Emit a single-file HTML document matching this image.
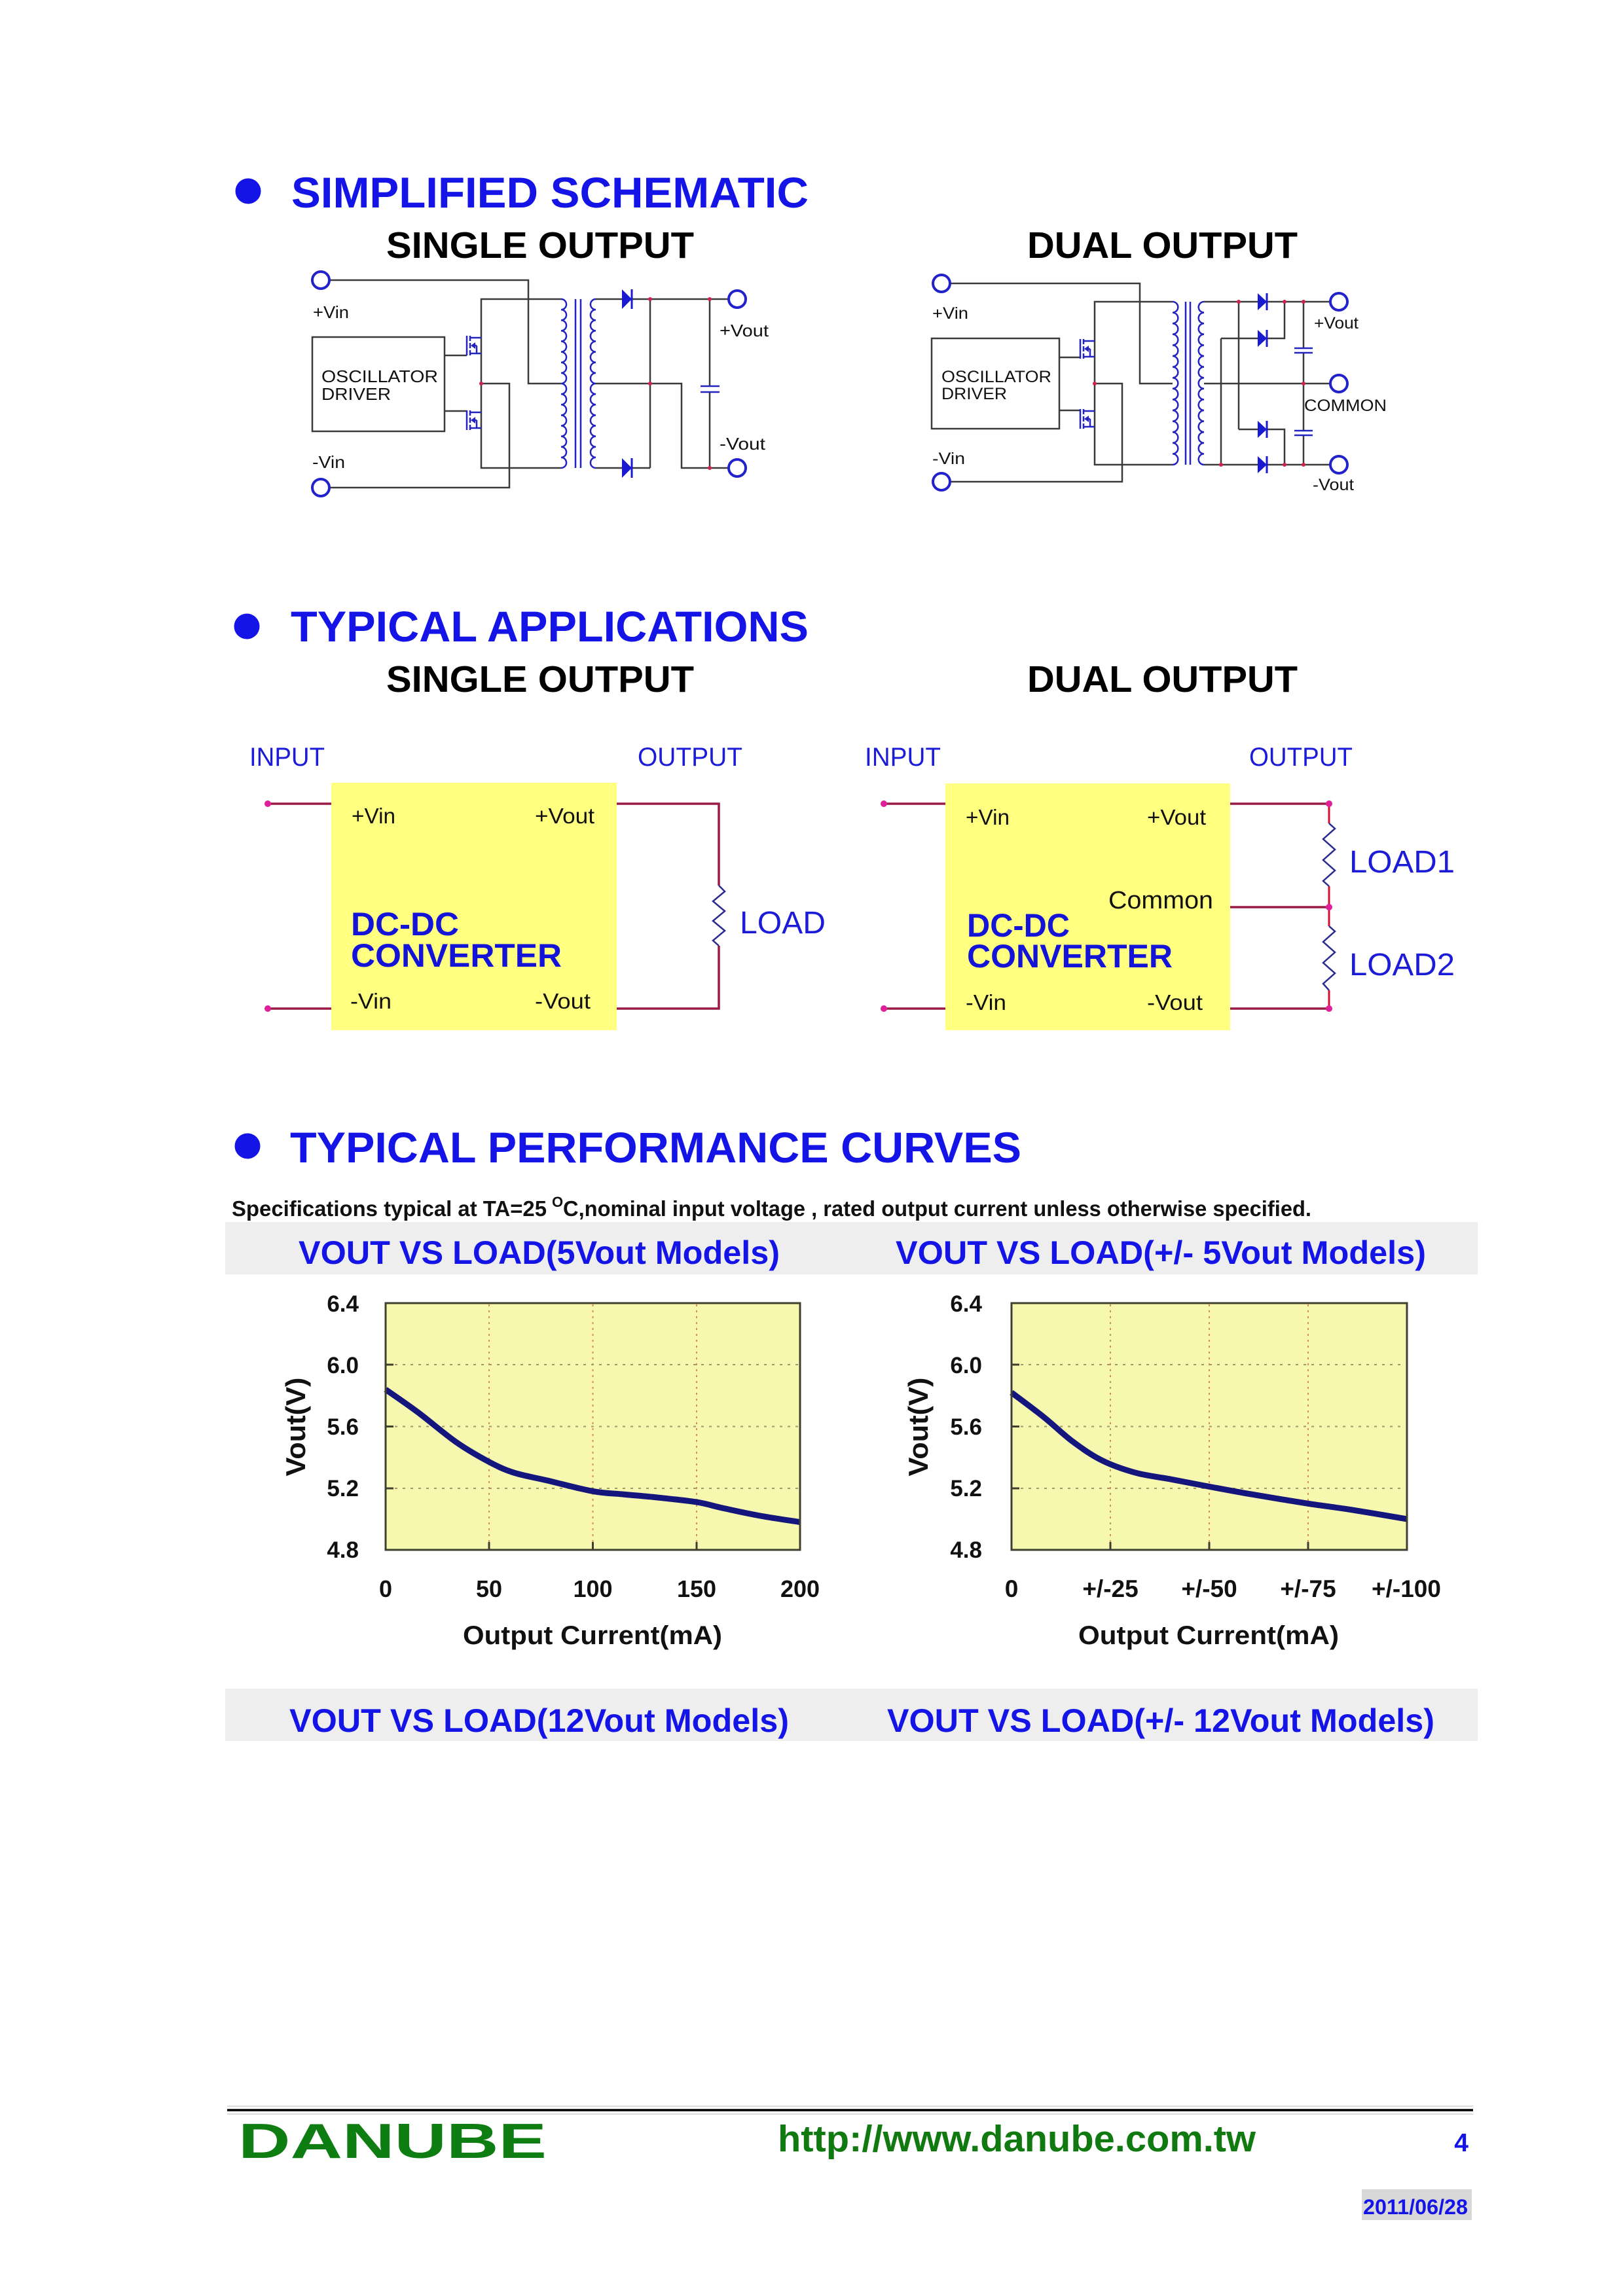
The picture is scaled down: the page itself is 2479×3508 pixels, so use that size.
<!DOCTYPE html>
<html><head><meta charset="utf-8">
<style>html,body{margin:0;padding:0;background:#fff}svg{display:block}</style>
</head><body>
<svg xmlns="http://www.w3.org/2000/svg" width="2479" height="3508" viewBox="0 0 2479 3508" font-family="'Liberation Sans', Arial, sans-serif">
<defs>
  <g id="mos" stroke="#2323c0" stroke-width="2.5" fill="none">
    <line x1="0" y1="0" x2="0" y2="30"/>
    <line x1="5" y1="0" x2="5" y2="8"/>
    <line x1="5" y1="11" x2="5" y2="19"/>
    <line x1="5" y1="22" x2="5" y2="30"/>
    <line x1="5" y1="3" x2="22" y2="3"/>
    <line x1="5" y1="27" x2="22" y2="27"/>
    <line x1="8" y1="15" x2="15" y2="15"/>
    <line x1="15" y1="15" x2="15" y2="27"/>
    <polygon points="6,15 13,10 13,20" fill="#2323c0" stroke="none"/>
  </g>
  <g id="dio">
    <polygon points="0,-15 0,15 15,0" fill="#1a1ad0"/>
    <line x1="15" y1="-15" x2="15" y2="15" stroke="#1a1ad0" stroke-width="3"/>
  </g>
  <g id="dio2">
    <polygon points="0,-13 0,13 14,0" fill="#1a1ad0"/>
    <line x1="14" y1="-13" x2="14" y2="13" stroke="#1a1ad0" stroke-width="3"/>
  </g>
</defs>
<rect width="2479" height="3508" fill="#fff"/>

<!-- ============ SECTION 1 ============ -->
<circle cx="379" cy="292" r="19.5" fill="#1414e6"/>
<text x="445" y="317" font-size="66" font-weight="bold" fill="#1414e6" textLength="790" lengthAdjust="spacingAndGlyphs">SIMPLIFIED SCHEMATIC</text>
<text x="590" y="394" font-size="57" font-weight="bold" fill="#000" textLength="470" lengthAdjust="spacingAndGlyphs">SINGLE OUTPUT</text>
<text x="1569" y="394" font-size="57" font-weight="bold" fill="#000" textLength="413" lengthAdjust="spacingAndGlyphs">DUAL OUTPUT</text>

<!-- single schematic -->
<g stroke="#3a3a3a" stroke-width="2.5" fill="none">
  <polyline points="503,428 807,428 807,586 857,586"/>
  <rect x="477" y="515" width="202" height="144"/>
  <line x1="679" y1="543" x2="713" y2="543"/>
  <line x1="679" y1="628" x2="713" y2="628"/>
  <polyline points="857,457 735,457 735,715 857,715"/>
  <polyline points="735,586 778,586 778,745 503,745"/>
  <line x1="910" y1="457" x2="950" y2="457"/>
  <line x1="965" y1="457" x2="1113" y2="457"/>
  <line x1="993" y1="457" x2="993" y2="715"/>
  <polyline points="910,586 1041,586 1041,715 1113,715"/>
  <line x1="910" y1="715" x2="950" y2="715"/>
  <line x1="965" y1="715" x2="993" y2="715"/>
  <line x1="1084" y1="457" x2="1084" y2="590"/>
  <line x1="1084" y1="599" x2="1084" y2="715"/>
</g>
<g stroke="#2323c0" stroke-width="2.5" fill="none">
  <line x1="1070" y1="590" x2="1099" y2="590"/>
  <line x1="1070" y1="599" x2="1099" y2="599"/>
  <line x1="879" y1="457" x2="879" y2="715"/>
  <line x1="887" y1="457" x2="887" y2="715"/>
  <path d="M857,457 a8.06,8.06 0 0 1 0,16.125 8.06,8.06 0 0 1 0,16.125 8.06,8.06 0 0 1 0,16.125 8.06,8.06 0 0 1 0,16.125 8.06,8.06 0 0 1 0,16.125 8.06,8.06 0 0 1 0,16.125 8.06,8.06 0 0 1 0,16.125 8.06,8.06 0 0 1 0,16.125 8.06,8.06 0 0 1 0,16.125 8.06,8.06 0 0 1 0,16.125 8.06,8.06 0 0 1 0,16.125 8.06,8.06 0 0 1 0,16.125 8.06,8.06 0 0 1 0,16.125 8.06,8.06 0 0 1 0,16.125 8.06,8.06 0 0 1 0,16.125 8.06,8.06 0 0 1 0,16.125"/>
  <path d="M910,457 a8.06,8.06 0 0 0 0,16.125 8.06,8.06 0 0 0 0,16.125 8.06,8.06 0 0 0 0,16.125 8.06,8.06 0 0 0 0,16.125 8.06,8.06 0 0 0 0,16.125 8.06,8.06 0 0 0 0,16.125 8.06,8.06 0 0 0 0,16.125 8.06,8.06 0 0 0 0,16.125 8.06,8.06 0 0 0 0,16.125 8.06,8.06 0 0 0 0,16.125 8.06,8.06 0 0 0 0,16.125 8.06,8.06 0 0 0 0,16.125 8.06,8.06 0 0 0 0,16.125 8.06,8.06 0 0 0 0,16.125 8.06,8.06 0 0 0 0,16.125 8.06,8.06 0 0 0 0,16.125"/>
</g>
<use href="#mos" x="713" y="513"/>
<use href="#mos" x="713" y="627"/>
<use href="#dio" x="950" y="457"/>
<use href="#dio" x="950" y="715"/>
<g fill="#d02050">
  <circle cx="993" cy="457" r="3"/><circle cx="1084" cy="457" r="3"/><circle cx="1084" cy="715" r="3"/><circle cx="993" cy="586" r="3"/><circle cx="735" cy="586" r="3"/>
</g>
<g stroke="#2222cc" stroke-width="4" fill="#fff">
  <circle cx="490" cy="428" r="13"/>
  <circle cx="490" cy="745" r="13"/>
  <circle cx="1126" cy="457" r="13"/>
  <circle cx="1126" cy="715" r="13"/>
</g>
<g font-size="26" fill="#111">
  <text x="478" y="486" textLength="55" lengthAdjust="spacingAndGlyphs">+Vin</text>
  <text x="477" y="715" textLength="50" lengthAdjust="spacingAndGlyphs">-Vin</text>
  <text x="1099" y="514" textLength="75" lengthAdjust="spacingAndGlyphs">+Vout</text>
  <text x="1099" y="687" textLength="70" lengthAdjust="spacingAndGlyphs">-Vout</text>
  <text x="491" y="584" textLength="178" lengthAdjust="spacingAndGlyphs">OSCILLATOR</text>
  <text x="491" y="611" textLength="106" lengthAdjust="spacingAndGlyphs">DRIVER</text>
</g>

<!-- dual schematic -->
<g stroke="#3a3a3a" stroke-width="2.5" fill="none">
  <polyline points="1451,433 1741,433 1741,586 1791,586"/>
  <rect x="1423" y="517" width="195" height="138"/>
  <line x1="1618" y1="546" x2="1650" y2="546"/>
  <line x1="1618" y1="627" x2="1650" y2="627"/>
  <polyline points="1791,461 1672,461 1672,710 1791,710"/>
  <polyline points="1672,586 1714,586 1714,736 1451,736"/>
  <line x1="1839" y1="461" x2="1921" y2="461"/>
  <line x1="1935" y1="461" x2="2032" y2="461"/>
  <line x1="1892" y1="461" x2="1892" y2="656"/>
  <line x1="1892" y1="656" x2="1921" y2="656"/>
  <polyline points="1935,656 1962,656 1962,710"/>
  <line x1="1865" y1="517" x2="1921" y2="517"/>
  <polyline points="1935,517 1962,517 1962,461"/>
  <line x1="1865" y1="517" x2="1865" y2="710"/>
  <line x1="1839" y1="586" x2="2032" y2="586"/>
  <line x1="1991" y1="461" x2="1991" y2="532"/>
  <line x1="1991" y1="539" x2="1991" y2="658"/>
  <line x1="1991" y1="665" x2="1991" y2="710"/>
  <line x1="1839" y1="710" x2="1921" y2="710"/>
  <line x1="1935" y1="710" x2="2032" y2="710"/>
</g>
<g stroke="#2323c0" stroke-width="2.5" fill="none">
  <line x1="1977" y1="532" x2="2005" y2="532"/>
  <line x1="1977" y1="539" x2="2005" y2="539"/>
  <line x1="1977" y1="658" x2="2005" y2="658"/>
  <line x1="1977" y1="665" x2="2005" y2="665"/>
  <line x1="1811" y1="461" x2="1811" y2="710"/>
  <line x1="1818" y1="461" x2="1818" y2="710"/>
  <path d="M1791,461 a8.3,8.3 0 0 1 0,16.6 8.3,8.3 0 0 1 0,16.6 8.3,8.3 0 0 1 0,16.6 8.3,8.3 0 0 1 0,16.6 8.3,8.3 0 0 1 0,16.6 8.3,8.3 0 0 1 0,16.6 8.3,8.3 0 0 1 0,16.6 8.3,8.3 0 0 1 0,16.6 8.3,8.3 0 0 1 0,16.6 8.3,8.3 0 0 1 0,16.6 8.3,8.3 0 0 1 0,16.6 8.3,8.3 0 0 1 0,16.6 8.3,8.3 0 0 1 0,16.6 8.3,8.3 0 0 1 0,16.6 8.3,8.3 0 0 1 0,16.6"/>
  <path d="M1839,461 a8.3,8.3 0 0 0 0,16.6 8.3,8.3 0 0 0 0,16.6 8.3,8.3 0 0 0 0,16.6 8.3,8.3 0 0 0 0,16.6 8.3,8.3 0 0 0 0,16.6 8.3,8.3 0 0 0 0,16.6 8.3,8.3 0 0 0 0,16.6 8.3,8.3 0 0 0 0,16.6 8.3,8.3 0 0 0 0,16.6 8.3,8.3 0 0 0 0,16.6 8.3,8.3 0 0 0 0,16.6 8.3,8.3 0 0 0 0,16.6 8.3,8.3 0 0 0 0,16.6 8.3,8.3 0 0 0 0,16.6 8.3,8.3 0 0 0 0,16.6"/>
</g>
<use href="#mos" x="1650" y="518"/>
<use href="#mos" x="1650" y="625"/>
<use href="#dio2" x="1921" y="461"/>
<use href="#dio2" x="1921" y="517"/>
<use href="#dio2" x="1921" y="656"/>
<use href="#dio2" x="1921" y="710"/>
<g fill="#d02050">
  <circle cx="1892" cy="461" r="3"/><circle cx="1962" cy="461" r="3"/><circle cx="1991" cy="461" r="3"/>
  <circle cx="1991" cy="586" r="3"/><circle cx="1865" cy="710" r="3"/><circle cx="1962" cy="710" r="3"/><circle cx="1991" cy="710" r="3"/><circle cx="1672" cy="586" r="3"/>
</g>
<g stroke="#2222cc" stroke-width="4" fill="#fff">
  <circle cx="1438" cy="433" r="13"/>
  <circle cx="1438" cy="736" r="13"/>
  <circle cx="2045" cy="461" r="13"/>
  <circle cx="2045" cy="586" r="13"/>
  <circle cx="2045" cy="710" r="13"/>
</g>
<g font-size="25" fill="#111">
  <text x="1424" y="487" textLength="55" lengthAdjust="spacingAndGlyphs">+Vin</text>
  <text x="1424" y="709" textLength="50" lengthAdjust="spacingAndGlyphs">-Vin</text>
  <text x="2007" y="502" textLength="68" lengthAdjust="spacingAndGlyphs">+Vout</text>
  <text x="1992" y="628" textLength="126" lengthAdjust="spacingAndGlyphs">COMMON</text>
  <text x="2005" y="749" textLength="63" lengthAdjust="spacingAndGlyphs">-Vout</text>
  <text x="1438" y="584" textLength="168" lengthAdjust="spacingAndGlyphs">OSCILLATOR</text>
  <text x="1438" y="610" textLength="100" lengthAdjust="spacingAndGlyphs">DRIVER</text>
</g>

<!-- ============ SECTION 2 ============ -->
<circle cx="377" cy="957" r="19.5" fill="#1414e6"/>
<text x="444" y="980" font-size="66" font-weight="bold" fill="#1414e6" textLength="791" lengthAdjust="spacingAndGlyphs">TYPICAL APPLICATIONS</text>
<text x="590" y="1057" font-size="57" font-weight="bold" fill="#000" textLength="470" lengthAdjust="spacingAndGlyphs">SINGLE OUTPUT</text>
<text x="1569" y="1057" font-size="57" font-weight="bold" fill="#000" textLength="413" lengthAdjust="spacingAndGlyphs">DUAL OUTPUT</text>

<g font-size="40" fill="#1c1cd8">
  <text x="381" y="1170" textLength="115" lengthAdjust="spacingAndGlyphs">INPUT</text>
  <text x="974" y="1170" textLength="160" lengthAdjust="spacingAndGlyphs">OUTPUT</text>
  <text x="1321" y="1170" textLength="116" lengthAdjust="spacingAndGlyphs">INPUT</text>
  <text x="1908" y="1170" textLength="158" lengthAdjust="spacingAndGlyphs">OUTPUT</text>
</g>

<!-- left app -->
<rect x="506" y="1196" width="436" height="378" fill="#ffff80"/>
<g stroke="#9a1c44" stroke-width="3.5" fill="none">
  <line x1="409" y1="1228" x2="506" y2="1228"/>
  <line x1="409" y1="1541" x2="506" y2="1541"/>
  <polyline points="942,1228 1098,1228 1098,1353"/>
  <polyline points="1098,1445 1098,1541 942,1541"/>
</g>
<polyline points="1098,1353 1107,1362 1089,1377 1107,1392 1089,1407 1107,1422 1089,1437 1098,1445" stroke="#2a2a90" stroke-width="2.5" fill="none"/>
<g fill="#e0209a"><circle cx="409" cy="1228" r="5"/><circle cx="409" cy="1541" r="5"/></g>
<g font-size="33" fill="#111">
  <text x="537" y="1258" textLength="67" lengthAdjust="spacingAndGlyphs">+Vin</text>
  <text x="817" y="1258" textLength="91" lengthAdjust="spacingAndGlyphs">+Vout</text>
  <text x="535" y="1541" textLength="63" lengthAdjust="spacingAndGlyphs">-Vin</text>
  <text x="817" y="1541" textLength="85" lengthAdjust="spacingAndGlyphs">-Vout</text>
</g>
<g font-size="50" font-weight="bold" fill="#1414d8">
  <text x="536" y="1429" textLength="165" lengthAdjust="spacingAndGlyphs">DC-DC</text>
  <text x="536" y="1477" textLength="322" lengthAdjust="spacingAndGlyphs">CONVERTER</text>
</g>
<text x="1130" y="1426" font-size="48" fill="#1c1cd8" textLength="131" lengthAdjust="spacingAndGlyphs">LOAD</text>

<!-- right app -->
<rect x="1444" y="1197" width="435" height="377" fill="#ffff80"/>
<g stroke="#9a1c44" stroke-width="3.5" fill="none">
  <line x1="1350" y1="1228" x2="1444" y2="1228"/>
  <line x1="1350" y1="1541" x2="1444" y2="1541"/>
  <line x1="1879" y1="1228" x2="2030" y2="1228"/>
  <line x1="1879" y1="1386" x2="2030" y2="1386"/>
  <line x1="1879" y1="1541" x2="2030" y2="1541"/>
</g>
<g stroke="#d0102c" stroke-width="3" fill="none">
  <line x1="2030" y1="1228" x2="2030" y2="1258"/>
  <line x1="2030" y1="1354" x2="2030" y2="1415"/>
  <line x1="2030" y1="1513" x2="2030" y2="1541"/>
</g>
<g stroke="#2a2a90" stroke-width="2.5" fill="none">
  <polyline points="2030,1258 2039,1266 2021,1282 2039,1298 2021,1314 2039,1330 2021,1346 2030,1354"/>
  <polyline points="2030,1415 2039,1423 2021,1439 2039,1455 2021,1471 2039,1487 2021,1503 2030,1513"/>
</g>
<g fill="#e0209a">
  <circle cx="1350" cy="1228" r="5"/><circle cx="1350" cy="1541" r="5"/>
  <circle cx="2030" cy="1228" r="5"/><circle cx="2030" cy="1386" r="5"/><circle cx="2030" cy="1541" r="5"/>
</g>
<g font-size="33" fill="#111">
  <text x="1475" y="1260" textLength="67" lengthAdjust="spacingAndGlyphs">+Vin</text>
  <text x="1752" y="1260" textLength="90" lengthAdjust="spacingAndGlyphs">+Vout</text>
  <text x="1475" y="1543" textLength="62" lengthAdjust="spacingAndGlyphs">-Vin</text>
  <text x="1752" y="1543" textLength="85" lengthAdjust="spacingAndGlyphs">-Vout</text>
  <text x="1693" y="1388" font-size="38" textLength="160" lengthAdjust="spacingAndGlyphs">Common</text>
</g>
<g font-size="50" font-weight="bold" fill="#1414d8">
  <text x="1477" y="1431" textLength="157" lengthAdjust="spacingAndGlyphs">DC-DC</text>
  <text x="1477" y="1478" textLength="314" lengthAdjust="spacingAndGlyphs">CONVERTER</text>
</g>
<g font-size="48" fill="#1c1cd8">
  <text x="2061" y="1333" textLength="161" lengthAdjust="spacingAndGlyphs">LOAD1</text>
  <text x="2061" y="1490" textLength="161" lengthAdjust="spacingAndGlyphs">LOAD2</text>
</g>

<!-- ============ SECTION 3 ============ -->
<circle cx="378" cy="1751" r="19.5" fill="#1414e6"/>
<text x="443" y="1776" font-size="66" font-weight="bold" fill="#1414e6" textLength="1117" lengthAdjust="spacingAndGlyphs">TYPICAL PERFORMANCE CURVES</text>

<g font-size="33" font-weight="bold" fill="#111">
  <text x="354" y="1858" textLength="481" lengthAdjust="spacingAndGlyphs">Specifications typical at TA=25</text>
  <text x="843" y="1844" font-size="22">O</text>
  <text x="860" y="1858" textLength="1143" lengthAdjust="spacingAndGlyphs">C,nominal input voltage , rated output current unless otherwise specified.</text>
</g>

<rect x="344" y="1867" width="1913" height="80" fill="#eeeeee"/>
<g font-size="50" font-weight="bold" fill="#1414e6">
  <text x="456" y="1931" textLength="735" lengthAdjust="spacingAndGlyphs">VOUT VS LOAD(5Vout Models)</text>
  <text x="1368" y="1931" textLength="810" lengthAdjust="spacingAndGlyphs">VOUT VS LOAD(+/- 5Vout Models)</text>
</g>

<!-- left chart -->
<rect x="589" y="1991" width="633" height="377" fill="#f6f8b0"/>
<g stroke="#d89050" stroke-width="2" stroke-dasharray="3 6">
  <line x1="747" y1="1993" x2="747" y2="2366"/>
  <line x1="905.5" y1="1993" x2="905.5" y2="2366"/>
  <line x1="1064" y1="1993" x2="1064" y2="2366"/>
</g>
<g stroke="#a09868" stroke-width="2" stroke-dasharray="4 8">
  <line x1="591" y1="2085" x2="1220" y2="2085"/>
  <line x1="591" y1="2179.5" x2="1220" y2="2179.5"/>
  <line x1="591" y1="2274" x2="1220" y2="2274"/>
</g>
<g stroke="#404030" stroke-width="3">
  <line x1="589" y1="2085" x2="601" y2="2085"/>
  <line x1="589" y1="2179.5" x2="601" y2="2179.5"/>
  <line x1="589" y1="2274" x2="601" y2="2274"/>
  <line x1="747" y1="2368" x2="747" y2="2356"/>
  <line x1="905.5" y1="2368" x2="905.5" y2="2356"/>
  <line x1="1064" y1="2368" x2="1064" y2="2356"/>
</g>
<g transform="translate(589,1991) scale(0.99528,0.99735) translate(-591,-1993)">
<path d="M591,2125.3 C599.4,2131.2 623.2,2147.3 641.2,2160.7 C659.2,2174.1 680.7,2193 698.8,2205.6 C716.9,2218.2 735.1,2228.4 750,2236.3 C764.9,2244.2 773.4,2248.2 788.2,2252.9 C803,2257.6 818.9,2260 839,2264.7 C859.1,2269.4 889.4,2277.7 909,2281.2 C928.6,2284.75 940.3,2284.4 956.7,2286 C973.1,2287.6 989.05,2288.7 1007.6,2290.7 C1026.15,2292.7 1051,2295.05 1068,2297.8 C1085,2300.55 1093,2303.7 1109.4,2307.2 C1125.8,2310.7 1147,2315.45 1166.6,2319 C1186.2,2322.55 1216.9,2326.9 1227,2328.5" fill="none" stroke="#15157e" stroke-width="9" stroke-linejoin="round"/>
</g>
<rect x="589" y="1991" width="633" height="377" fill="none" stroke="#404030" stroke-width="3"/>
<g font-size="35" font-weight="bold" fill="#111" text-anchor="end">
  <text x="548" y="2004">6.4</text>
  <text x="548" y="2098">6.0</text>
  <text x="548" y="2192">5.6</text>
  <text x="548" y="2286">5.2</text>
  <text x="548" y="2380">4.8</text>
</g>
<g font-size="36" font-weight="bold" fill="#111" text-anchor="middle">
  <text x="589" y="2440">0</text>
  <text x="747" y="2440">50</text>
  <text x="905.5" y="2440">100</text>
  <text x="1064" y="2440">150</text>
  <text x="1222" y="2440">200</text>
</g>
<text transform="translate(466,2180) rotate(-90)" font-size="42" font-weight="bold" fill="#111" text-anchor="middle" textLength="151" lengthAdjust="spacingAndGlyphs">Vout(V)</text>
<text x="905" y="2512" font-size="40" font-weight="bold" fill="#111" text-anchor="middle" textLength="396" lengthAdjust="spacingAndGlyphs">Output Current(mA)</text>

<!-- right chart -->
<rect x="1545" y="1991" width="604" height="377" fill="#f6f8b0"/>
<g stroke="#d89050" stroke-width="2" stroke-dasharray="3 6">
  <line x1="1696" y1="1993" x2="1696" y2="2366"/>
  <line x1="1847" y1="1993" x2="1847" y2="2366"/>
  <line x1="1998" y1="1993" x2="1998" y2="2366"/>
</g>
<g stroke="#a09868" stroke-width="2" stroke-dasharray="4 8">
  <line x1="1547" y1="2085" x2="2147" y2="2085"/>
  <line x1="1547" y1="2179.5" x2="2147" y2="2179.5"/>
  <line x1="1547" y1="2274" x2="2147" y2="2274"/>
</g>
<g stroke="#404030" stroke-width="3">
  <line x1="1545" y1="2085" x2="1557" y2="2085"/>
  <line x1="1545" y1="2179.5" x2="1557" y2="2179.5"/>
  <line x1="1545" y1="2274" x2="1557" y2="2274"/>
  <line x1="1696" y1="2368" x2="1696" y2="2356"/>
  <line x1="1847" y1="2368" x2="1847" y2="2356"/>
  <line x1="1998" y1="2368" x2="1998" y2="2356"/>
</g>
<g transform="translate(1545,1991) scale(0.99342,0.99735) translate(-1547,-1993)">
<path d="M1547,2130 C1555.3,2136.3 1581.1,2155.2 1596.9,2167.8 C1612.7,2180.4 1626.9,2194.6 1641.8,2205.6 C1656.7,2216.6 1670.2,2226.1 1686.2,2234 C1702.2,2241.9 1720.8,2248.2 1737.9,2252.9 C1755,2257.6 1770.15,2258.8 1789,2262.3 C1807.85,2265.8 1829.7,2270.15 1851,2274.1 C1872.3,2278.05 1891.4,2281.7 1916.7,2286 C1942,2290.3 1977.5,2296.2 2003,2300.1 C2028.5,2304 2044.6,2305.65 2069.9,2309.6 C2095.2,2313.55 2140.8,2321.4 2155,2323.8" fill="none" stroke="#15157e" stroke-width="9" stroke-linejoin="round"/>
</g>
<rect x="1545" y="1991" width="604" height="377" fill="none" stroke="#404030" stroke-width="3"/>
<g font-size="35" font-weight="bold" fill="#111" text-anchor="end">
  <text x="1500" y="2004">6.4</text>
  <text x="1500" y="2098">6.0</text>
  <text x="1500" y="2192">5.6</text>
  <text x="1500" y="2286">5.2</text>
  <text x="1500" y="2380">4.8</text>
</g>
<g font-size="37" font-weight="bold" fill="#111" text-anchor="middle">
  <text x="1545" y="2440">0</text>
  <text x="1696" y="2440">+/-25</text>
  <text x="1847" y="2440">+/-50</text>
  <text x="1998" y="2440">+/-75</text>
  <text x="2148" y="2440">+/-100</text>
</g>
<text transform="translate(1417,2180) rotate(-90)" font-size="42" font-weight="bold" fill="#111" text-anchor="middle" textLength="151" lengthAdjust="spacingAndGlyphs">Vout(V)</text>
<text x="1846" y="2512" font-size="40" font-weight="bold" fill="#111" text-anchor="middle" textLength="398" lengthAdjust="spacingAndGlyphs">Output Current(mA)</text>

<rect x="344" y="2580" width="1913" height="80" fill="#eeeeee"/>
<g font-size="50" font-weight="bold" fill="#1414e6">
  <text x="442" y="2646" textLength="763" lengthAdjust="spacingAndGlyphs">VOUT VS LOAD(12Vout Models)</text>
  <text x="1355" y="2646" textLength="836" lengthAdjust="spacingAndGlyphs">VOUT VS LOAD(+/- 12Vout Models)</text>
</g>

<!-- ============ FOOTER ============ -->
<line x1="347" y1="3218" x2="2250" y2="3218" stroke="#d0d0d0" stroke-width="1.5"/>
<line x1="347" y1="3224" x2="2250" y2="3224" stroke="#000" stroke-width="3.5"/>
<line x1="347" y1="3230" x2="2250" y2="3230" stroke="#d0d0d0" stroke-width="1.5"/>
<text x="364" y="3297" font-size="75" font-weight="bold" fill="#0e7d12" textLength="471" lengthAdjust="spacingAndGlyphs">DANUBE</text>
<text x="1188" y="3287" font-size="57" font-weight="bold" fill="#107a10" textLength="730" lengthAdjust="spacingAndGlyphs">http://www.danube.com.tw</text>
<text x="2243" y="3287" font-size="39" font-weight="bold" fill="#1414e6" text-anchor="end">4</text>
<rect x="2080" y="3345" width="168" height="47" fill="#d8d8d8"/>
<text x="2082" y="3383" font-size="32" font-weight="bold" fill="#1414e6" textLength="160" lengthAdjust="spacingAndGlyphs">2011/06/28</text>
</svg>
</body></html>
